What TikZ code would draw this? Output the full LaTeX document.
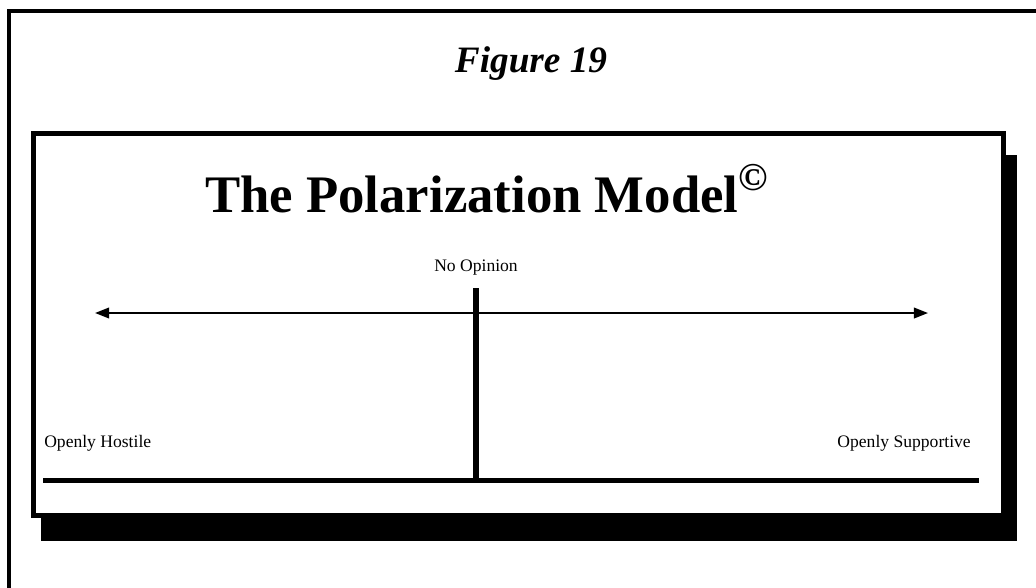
\documentclass[tikz,border=0pt]{standalone}
\usepackage{fontspec}
\setmainfont{Liberation Serif}
\usepackage{tikz}
\usetikzlibrary{arrows.meta,positioning}
\tikzset{
  frameline/.style={draw=black, line width=3.4pt},
  shadowbox/.style={fill=black},
  axis/.style={{Triangle[length=10pt,width=7.5pt]}-{Triangle[length=10pt,width=7.5pt]}, line width=1.4pt},
  baseline rule/.style={line width=3.4pt},
  pole/.style={font=\fontsize{12.5}{14}\selectfont, inner sep=0pt},
  titletext/.style={font=\fontsize{37.5}{40}\selectfont\bfseries, inner sep=0pt},
  figtext/.style={font=\fontsize{26.5}{30}\selectfont\bfseries\itshape, inner sep=0pt}
}

\begin{document}
\begin{tikzpicture}[x=0.025cm, y=-0.025cm]

    \clip (0,0) rectangle (1036,587);
    \fill[white] (0,0) rectangle (1036,587);

    %% ---- outer frame (runs off page) ------------------------------
    \draw[frameline] (9,620) -- (9,11) -- (1070,11);

    \node[figtext, anchor=base] (fig) at (531,72) {Figure 19};

    %% ---- model box with drop shadow -------------------------------
    \fill[shadowbox] (41,155) rectangle (1017,541);
    \draw[frameline, fill=white] (33.5,133.5) rectangle (1003.5,515.5);

    \node[titletext, anchor=base west] (title) at (205,212)
      {The Polarization Model\raisebox{0.4em}{\fontsize{28}{28}\selectfont ©}};

    %% ---- axis ------------------------------------------------------
    \coordinate (lend) at (95,313);
    \coordinate (rend) at (928,313);
    \draw[axis] (lend) -- (rend);

    \node[pole, anchor=base] (none) at (476,271) {No Opinion};
    \coordinate (ptop) at (476,288);
    \coordinate (pbot) at (476,480);
    \draw[line width=3.6pt] (ptop) -- (pbot);

    \coordinate (bl) at (43,480.5);
    \coordinate (br) at (979,480.5);
    \draw[baseline rule] (bl) -- (br);

    \node[pole, anchor=base west] (hostile) at (44,447) {Openly Hostile};
    \node[pole, anchor=base east] (support) at (971,447) {Openly Supportive};

\end{tikzpicture}
\end{document}
